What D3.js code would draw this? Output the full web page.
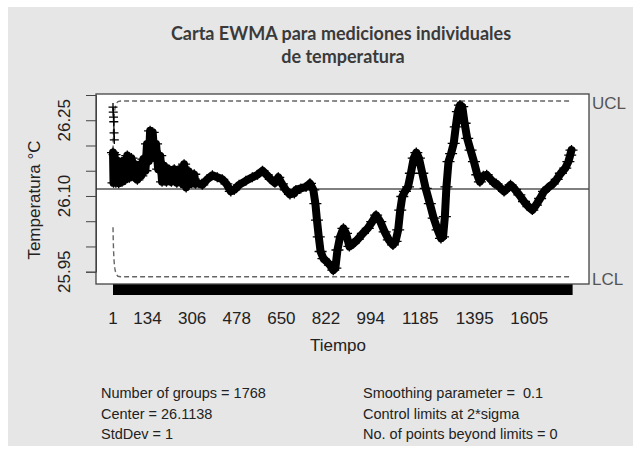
<!DOCTYPE html>
<html><head><meta charset="utf-8">
<script src="https://cdn.jsdelivr.net/npm/d3@7"></script>
<style>body{margin:0;background:#fff}</style>
</head><body>
<svg id="c" width="642" height="451"></svg>
<script>
// ---------- data ----------
const title = ["Carta EWMA para mediciones individuales", "de temperatura"];
const xLabel = "Tiempo";
const yLabel = "Temperatura °C";
const nGroups = 1768;
const center = 26.1138;
const xTickLabels = [1, 134, 306, 478, 650, 822, 994, 1185, 1395, 1605];
const yTicks = [25.95, 26.00, 26.05, 26.10, 26.15, 26.20, 26.25, 26.30];
const yTickLabels = [25.95, 26.10, 26.25];

// control limits
const limitIdx = [1, 2, 3, 4, 5, 6, 8, 10, 15, 20, 30, 1768];
const uclVals = [26.190, 26.216, 26.233, 26.245, 26.254, 26.261, 26.271, 26.277, 26.284, 26.287, 26.288, 26.288];
const lclVals = [26.038, 26.012, 25.995, 25.982, 25.973, 25.966, 25.957, 25.951, 25.944, 25.941, 25.940, 25.940];

// first individual readings (isolated "+" at the start)
const startIdx = [1, 2, 3, 4, 5, 6];
const startVals = [26.276, 26.266, 26.256, 26.247, 26.225, 26.211];

const seriesIdx = [1,3,7,12,18,23,29,36,42,49,56,64,72,80,87,95,103,110,118,126,132,139,144,149,154,161,167,175,183,190,198,207,216,226,237,247,257,268,275,283,293,304,314,
  319,332,345,364,384,403,422,438,455,468,487,513,538,558,577,593,609,625,638,652,667,683,700,
  706,725,745,760,773,781,787,794,801,812,825,837,850,858,866,876,889,899,912,928,944,964,983,1000,1015,1031,1048,1064,1080,1090,1100,
  1108,1116,1126,1138,1149,1160,1170,1180,1193,1206,1222,1237,1252,1265,1273,1280,1286,1294,1304,1314,1322,1330,1338,1347,1356,1366,1379,1392,1405,1415,1428,1441,1456,1473,
  1479,1492,1508,1521,1533,1550,1567,1585,1602,1617,1631,1647,1662,1679,1696,1711,1727,1744,1756,1763,1768];
const seriesVals = [26.186,26.126,26.182,26.126,26.170,26.125,26.160,26.128,26.170,26.132,26.180,26.136,26.175,26.138,26.163,26.132,26.162,26.140,26.173,26.150,26.203,26.169,26.229,26.189,26.226,26.176,26.203,26.153,26.180,26.128,26.160,26.128,26.153,26.128,26.153,26.126,26.153,26.125,26.163,26.117,26.149,26.125,26.143,
  26.124,26.125,26.122,26.133,26.141,26.137,26.133,26.124,26.109,26.112,26.122,26.130,26.137,26.142,26.150,26.142,26.133,26.126,26.137,26.124,26.112,26.103,26.105,
  26.112,26.115,26.118,26.125,26.112,26.085,26.052,26.019,25.990,25.976,25.970,25.963,25.953,25.957,25.993,26.019,26.036,26.026,26.000,26.006,26.014,26.026,26.036,26.049,26.062,26.049,26.029,26.013,26.003,26.010,26.033,
  26.072,26.099,26.109,26.118,26.145,26.175,26.186,26.175,26.145,26.115,26.085,26.056,26.033,26.016,26.019,26.059,26.118,26.168,26.184,26.204,26.237,26.267,26.280,26.277,26.244,26.214,26.191,26.168,26.142,26.128,26.140,26.142,26.133,26.124,
  26.124,26.117,26.109,26.115,26.122,26.113,26.102,26.089,26.079,26.072,26.082,26.095,26.109,26.117,26.124,26.133,26.145,26.155,26.168,26.181,26.191];

const statsLeft = ["Number of groups = 1768", "Center = 26.1138", "StdDev = 1"];
const statsRight = ["Smoothing parameter =  0.1", "Control limits at 2*sigma", "No. of points beyond limits = 0"];

// ---------- drawing ----------
const W = 642, H = 451;
const box = {l: 96, r: 589, t: 94, b: 284};
const FONT = "Arial, 'Liberation Sans', Arimo, Helvetica, sans-serif";
const svg = d3.select("#c");

svg.append("rect").attr("width", W).attr("height", H).attr("fill", "#fff");
svg.append("rect").attr("x", 8).attr("y", 7).attr("width", 625).attr("height", 439).attr("fill", "#e6e6e6");
svg.append("rect").attr("x", box.l).attr("y", box.t).attr("width", box.r - box.l).attr("height", box.b - box.t).attr("fill", "#fff");

const x = d3.scaleLinear().domain([1, nGroups]).range([113, 571.5]);
const y = d3.scaleLinear().domain([25.95, 26.30]).range([271.7, 95]);

// title
svg.append("g").selectAll("text").data(title).join("text")
  .attr("x", (d, i) => i === 0 ? 341 : 343).attr("y", (d, i) => i === 0 ? 40 : 63)
  .attr("text-anchor", "middle").attr("font-family", "Lato, 'Open Sans', sans-serif")
  .attr("font-weight", "bold").attr("font-size", 18).attr("fill", "#3a3a3a").text(d => d);

// x axis: tick for every group (forms the black bar), labels at selected groups
const xAxis = d3.axisBottom(x).tickValues(d3.range(1, nGroups + 1)).tickSize(11).tickFormat("");
const gx = svg.append("g").attr("transform", `translate(0,${box.b})`).call(xAxis);
gx.select(".domain").remove();
gx.selectAll(".tick line").attr("stroke", "#000");

svg.append("g").selectAll("text").data(xTickLabels).join("text")
  .attr("x", d => x(d)).attr("y", 324).attr("text-anchor", "middle")
  .attr("font-family", FONT).attr("font-size", 17).attr("fill", "#222").text(d => d);

// y axis
const yAxis = d3.axisLeft(y).tickValues(yTicks).tickSize(10).tickFormat("");
const gy = svg.append("g").attr("transform", `translate(${box.l},0)`).call(yAxis);
gy.select(".domain").attr("stroke", "#444");
gy.selectAll(".tick line").attr("stroke", "#444");
svg.append("g").selectAll("text").data(yTickLabels).join("text")
  .attr("transform", d => `translate(70,${y(d)}) rotate(-90)`)
  .attr("text-anchor", "middle").attr("font-family", FONT).attr("font-size", 17)
  .attr("fill", "#222").text(d => d.toFixed(2));

// axis titles
svg.append("text").attr("x", 338).attr("y", 351).attr("text-anchor", "middle")
  .attr("font-family", FONT).attr("font-size", 17).attr("fill", "#222").text(xLabel);
svg.append("text").attr("transform", "translate(40,200) rotate(-90)").attr("text-anchor", "middle")
  .attr("font-family", FONT).attr("font-size", 17).attr("fill", "#222").text(yLabel);

// center line
svg.append("line").attr("x1", box.l).attr("x2", box.r).attr("y1", y(center)).attr("y2", y(center))
  .attr("stroke", "#000").attr("stroke-width", 1);

// control limits
const limLine = vals => d3.line().x((d, i) => x(limitIdx[i])).y(d => y(d))(vals);
[uclVals, lclVals].forEach(v => {
  svg.append("path").attr("d", limLine(v)).attr("fill", "none")
    .attr("stroke", "#666").attr("stroke-width", 1.4).attr("stroke-dasharray", "5,3");
});
svg.append("text").attr("x", 592).attr("y", y(uclVals[uclVals.length - 1]) + 8)
  .attr("font-family", FONT).attr("font-size", 17).attr("fill", "#555").text("UCL");
svg.append("text").attr("x", 592).attr("y", y(lclVals[lclVals.length - 1]) + 8)
  .attr("font-family", FONT).attr("font-size", 17).attr("fill", "#555").text("LCL");

// plus marker helper
const plus = (g, xs, ys, hw, hh) => {
  g.selectAll("path.p").data(xs).join("path").attr("class", "p")
    .attr("d", (d, i) => {
      const px = x(d), py = y(ys[i]);
      return `M${px - hw},${py}H${px + hw}M${px},${py - hh}V${py + hh}`;
    })
    .attr("stroke", "#000").attr("stroke-width", 1.3).attr("fill", "none");
};

// start readings
const gs = svg.append("g");
gs.append("path").attr("d", d3.line().x((d, i) => x(startIdx[i])).y(d => y(d))(startVals.concat([seriesVals[0]])))
  .attr("fill", "none").attr("stroke", "#000").attr("stroke-width", 1.2);
plus(gs, startIdx, startVals, 4.5, 4);

// main trace
const gm = svg.append("g");
gm.append("path").attr("d", d3.line().x((d, i) => x(seriesIdx[i])).y(d => y(d))(seriesVals))
  .attr("fill", "none").attr("stroke", "#000").attr("stroke-width", 8)
  .attr("stroke-linejoin", "round").attr("stroke-linecap", "round");
plus(gm, seriesIdx, seriesVals, 6, 5);

// box
svg.append("rect").attr("x", box.l).attr("y", box.t).attr("width", box.r - box.l).attr("height", box.b - box.t)
  .attr("fill", "none").attr("stroke", "#444").attr("stroke-width", 1.3);

// stats
const gst = svg.append("g").attr("font-family", FONT).attr("font-size", 14.5).attr("fill", "#222");
gst.selectAll("text.l").data(statsLeft).join("text").attr("class", "l")
  .attr("x", 101).attr("y", (d, i) => 398 + i * 20.5).text(d => d);
gst.selectAll("text.r").data(statsRight).join("text").attr("class", "r")
  .attr("x", 363).attr("y", (d, i) => 398 + i * 20.5).style("white-space", "pre").text(d => d);
</script>
</body></html>
